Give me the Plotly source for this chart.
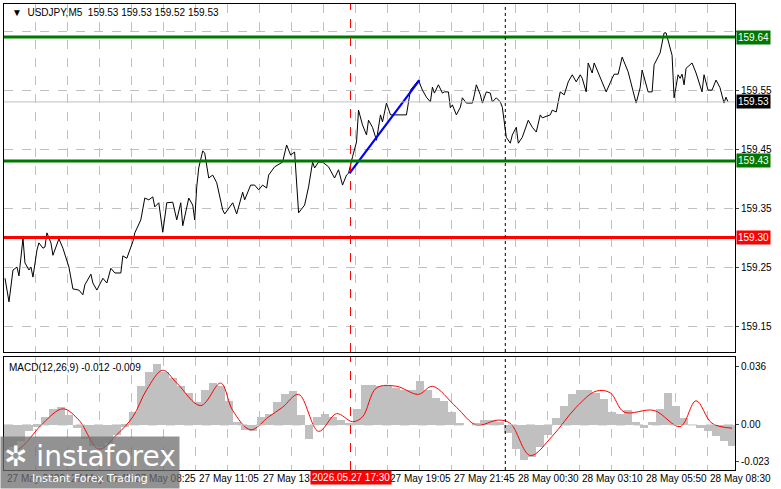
import plotly.graph_objects as go

# kurs (M5-bars, index = bar nummer)
bar = [0, 2, 4, 6, 7, 9, 10, 12, 13, 14, 16, 17, 19, 20, 21, 23, 24, 27, 29, 32, 34, 37, 39, 40, 43, 44, 46, 49, 51, 53,
       55, 58, 59, 61, 64, 65, 68, 70, 72, 74, 75, 77, 79, 81, 84, 86, 88, 89, 92, 94, 95, 96, 97, 99, 100, 102, 104, 106, 109, 110,
       114, 116, 119, 120, 123, 125, 127, 129, 131, 132, 135, 139, 141, 143, 145, 147, 150, 152, 154, 155, 157, 159, 162, 165, 167, 169, 171, 172, 174, 176,
       177, 179, 181, 182, 184, 186, 188, 189, 191, 193, 195, 201, 203, 207, 209, 211, 213, 214, 215, 217, 219, 220, 222, 223, 224, 226, 228, 229, 231, 234,
       235, 236, 238, 239, 241, 243, 244, 246, 248, 249, 251, 253, 254, 256, 257, 259, 262, 264, 266, 268, 269, 273, 274, 276, 278, 280, 282, 284, 286, 288,
       289, 291, 292, 294, 295, 298, 301, 304, 305, 307, 309, 312, 314, 316, 318, 319, 322, 324, 325, 328, 330, 331, 334, 335, 337, 338, 339, 340, 341, 344,
       346, 349, 350, 352, 354, 356, 358, 360, 361, 362]
close = [159.231, 159.191, 159.245, 159.250, 159.235, 159.299, 159.257, 159.245, 159.250, 159.233, 159.279, 159.291, 159.282, 159.284, 159.308, 159.291, 159.270, 159.298, 159.282, 159.250,
         159.213, 159.211, 159.203, 159.220, 159.238, 159.223, 159.211, 159.231, 159.223, 159.248, 159.240, 159.240, 159.269, 159.265, 159.293, 159.308, 159.330, 159.367, 159.364, 159.369,
         159.352, 159.359, 159.309, 159.359, 159.360, 159.330, 159.359, 159.320, 159.367, 159.355, 159.330, 159.386, 159.418, 159.447, 159.443, 159.401, 159.406, 159.393, 159.347, 159.340,
         159.359, 159.340, 159.377, 159.364, 159.389, 159.389, 159.381, 159.389, 159.384, 159.406, 159.420, 159.428, 159.457, 159.440, 159.445, 159.342, 159.355, 159.386, 159.428, 159.418,
         159.428, 159.428, 159.420, 159.401, 159.415, 159.389, 159.406, 159.409, 159.437, 159.462, 159.516, 159.491, 159.474, 159.499, 159.487, 159.465, 159.508, 159.496, 159.528, 159.508,
         159.508, 159.508, 159.550, 159.567, 159.550, 159.538, 159.530, 159.555, 159.545, 159.559, 159.545, 159.547, 159.547, 159.520, 159.525, 159.508, 159.521, 159.537, 159.528, 159.528,
         159.542, 159.559, 159.542, 159.528, 159.547, 159.545, 159.530, 159.537, 159.530, 159.521, 159.470, 159.460, 159.474, 159.487, 159.460, 159.470, 159.499, 159.487, 159.479, 159.508,
         159.503, 159.508, 159.516, 159.513, 159.547, 159.542, 159.564, 159.576, 159.564, 159.576, 159.570, 159.547, 159.596, 159.579, 159.596, 159.570, 159.547, 159.570, 159.577, 159.577,
         159.606, 159.581, 159.554, 159.528, 159.554, 159.584, 159.547, 159.547, 159.593, 159.613, 159.647, 159.647, 159.609, 159.537, 159.576, 159.570, 159.577, 159.559, 159.587, 159.596,
         159.579, 159.547, 159.576, 159.550, 159.550, 159.567, 159.554, 159.528, 159.538, 159.530]

# MACD histogramm (alle 4 bars) und signal
hist_bar = list(range(0, 365, 4))
hist = [-16, -14, -10, -4, -1, 5, 10, 11, 6, -2, -9, -13, -14, -11, -6, -1, 8, 24, 33, 38, 33, 29, 24, 20, 14, 22, 26, 24, 15, 2,
        -3, -4, 5, 7, 14, 19, 21, 6, -9, 5, 7, 5, 3, 1, 10, 25, 25, 24, 24, 23, 22, 22, 27, 22, 17, 15, 8, 1, 0, 1,
        3, 3, 2, -5, -15, -22, -20, -14, -6, 4, 12, 19, 22, 22, 20, 16, 8, 7, 9, 2, -2, 2, 10, 20, 12, 4, 0, -2, -4, -7,
        -10, -13]
sig_bar = [2, 9, 19, 29, 37, 47, 56, 64, 71, 79, 86, 98, 108, 114, 123, 132, 139, 147, 157, 166, 174, 179, 186, 196, 207, 214, 226, 236, 247, 253,
           263, 274, 286, 296, 303, 310, 325, 338, 346, 354, 364]
signal = [-19, -13, 1, 10, 3, -15, -6, 5, 22, 34, 26, 12, 26, 9, -3, 5, 11, 19, -4, 7, 2, 5, 23, 24, 19, 24, 11, 0, 3, 1,
          -19, -7, 11, 21, 20, 8, 9, -1, 15, 1, -2]

tick_bars = [0, 32, 64, 96, 128, 192, 224, 256, 288, 320, 352]
tick_text = ["27 May 2026", "27 May 05:45", "27 May 08:25", "27 May 11:05", "27 May 13:45", "27 May 19:05",
             "27 May 21:45", "28 May 00:30", "28 May 03:10", "28 May 05:50", "28 May 08:30"]

levels = [(159.64, "#007800"), (159.43, "#007800"), (159.30, "#ff0000")]
last_price = 159.53
cursor_bar, day_bar = 173, 250.5
trend = ([172.5, 207.5], [159.409, 159.567])

fnt = dict(family="Liberation Sans", size=10, color="black")
fig = go.Figure()

fig.add_trace(go.Scatter(x=bar, y=close, mode="lines", line=dict(color="black", width=1), xaxis="x", yaxis="y"))
fig.add_trace(go.Scatter(x=trend[0], y=trend[1], mode="lines", line=dict(color="#0000ff", width=2.2), xaxis="x", yaxis="y"))
fig.add_trace(go.Bar(x=hist_bar, y=[v / 1000 for v in hist], width=4, marker=dict(color="#c0c0c0", line_width=0),
                     xaxis="x2", yaxis="y2"))
fig.add_trace(go.Scatter(x=sig_bar, y=[v / 1000 for v in signal], mode="lines", line=dict(color="red", width=1, shape="spline"),
                         xaxis="x2", yaxis="y2"))

ax = dict(range=[-0.5, 365.5], showgrid=True, gridcolor="#c0c0c0", griddash="dash", gridwidth=1,
          tick0=15.5, dtick=16, showticklabels=False, ticks="", showline=True, linecolor="black", mirror=True, zeroline=False)
fig.update_layout(
    width=781, height=489, showlegend=False, plot_bgcolor="white", paper_bgcolor="white",
    margin=dict(l=4, r=46, t=4, b=19, autoexpand=False), bargap=0,
    xaxis=dict(ax, domain=[0, 1], anchor="y"),
    xaxis2=dict(ax, domain=[0, 1], anchor="y2", matches="x"),
    yaxis=dict(domain=[0.2532, 1], range=[159.106, 159.696], side="right", tickvals=[159.15, 159.25, 159.35, 159.45, 159.55, 159.65],
               ticktext=["159.15", "159.25", "159.35", "159.45", "159.55", ""], tickfont=fnt, ticks="outside", ticklen=3,
               showgrid=True, gridcolor="#c0c0c0", griddash="dash", showline=True, linecolor="black", mirror=True, zeroline=False),
    yaxis2=dict(domain=[0, 0.2425], range=[-0.028, 0.0422], side="right", tickvals=[0.036, 0, -0.023],
                ticktext=["0.036", "0.00", "-0.023"], tickfont=fnt, ticks="outside", ticklen=3,
                showgrid=False, showline=True, linecolor="black", mirror=True, zeroline=False),
)

shapes = []
for lv, col in levels:
    shapes.append(dict(type="line", xref="x domain", yref="y", x0=0, x1=1, y0=lv, y1=lv, line=dict(color=col, width=3)))
shapes.append(dict(type="line", xref="x domain", yref="y", x0=0, x1=1, y0=last_price, y1=last_price, line=dict(color="#c0c0c0", width=1)))
shapes.append(dict(type="line", xref="x2 domain", yref="y2", x0=0, x1=1, y0=0, y1=0, line=dict(color="#c0c0c0", width=1, dash="dash")))
for yr in ["y", "y2"]:
    shapes.append(dict(type="line", xref="x", yref=yr + " domain", x0=cursor_bar, x1=cursor_bar, y0=0, y1=1,
                       line=dict(color="red", width=1, dash="dash")))
    shapes.append(dict(type="line", xref="x", yref=yr + " domain", x0=day_bar, x1=day_bar, y0=0, y1=1,
                       line=dict(color="black", width=1, dash="dot")))
fig.update_layout(shapes=shapes)

ann = [dict(xref="paper", yref="paper", x=0.008, y=0.997, xanchor="left", yanchor="top", showarrow=False,
            text="▼  USDJPY,M5  159.53 159.53 159.52 159.53", font=fnt),
       dict(xref="paper", yref="paper", x=0.004, y=0.236, xanchor="left", yanchor="top", showarrow=False,
            text="MACD(12,26,9) -0.012 -0.009", font=fnt)]
for lv, col in levels + [(last_price, "black")]:
    ann.append(dict(xref="paper", yref="y", x=1.002, y=lv, xanchor="left", showarrow=False, text=f"{lv:.2f}",
                    font=dict(family="Liberation Sans", size=10, color="white"), bgcolor=col, borderpad=1))
for b, t in zip(tick_bars, tick_text):
    ann.append(dict(xref="x", yref="paper", x=b, y=-0.002, xanchor="left", yanchor="top", showarrow=False, text=t, font=fnt))
ann.append(dict(xref="x", yref="paper", x=cursor_bar, y=0.0, xanchor="center", yanchor="top", showarrow=False,
                text="2026.05.27 17:30", font=dict(family="Liberation Sans", size=10, color="white"), bgcolor="red", borderpad=1))
ann.append(dict(xref="paper", yref="paper", x=-0.006, y=-0.041, xanchor="left", yanchor="bottom", showarrow=False,
                text="<span style='font-size:28px'>✲ instaforex</span><br><span style='font-size:11px'>        Instant Forex Trading</span>",
                font=dict(family="DejaVu Sans", color="white"), bgcolor="rgba(110,110,110,0.75)", align="left", borderpad=3))
fig.update_layout(annotations=ann)

fig.write_html("out.html", config={"displayModeBar": False}, post_script="document.body.style.margin='0';")
